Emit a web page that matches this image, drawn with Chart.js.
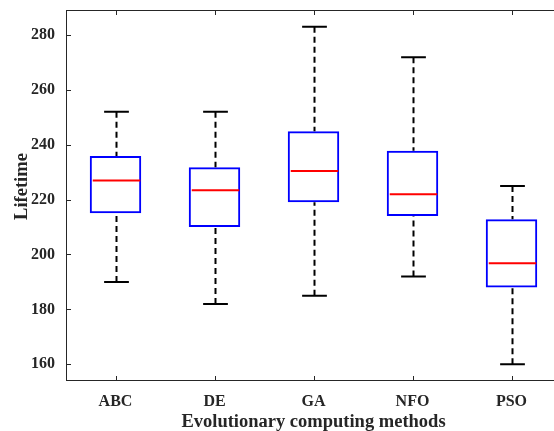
<!DOCTYPE html>
<html>
<head>
<meta charset="utf-8">
<script src="https://cdn.jsdelivr.net/npm/chart.js@4"></script>
<style>
html, body { margin: 0; padding: 0; background: #fff; overflow: hidden; }
#wrap { width: 554px; height: 431px; overflow: hidden; }
</style>
</head>
<body>
<div id="wrap"><canvas id="myChart" width="562" height="431"></canvas></div>
<script>
var methods = ['ABC', 'DE', 'GA', 'NFO', 'PSO'];
var whiskerLow = [190, 182, 185, 192, 160];
var q1 = [215, 210, 219, 214, 188];
var median = [227, 223.4, 230.4, 222, 196.8];
var q3 = [235.9, 231.8, 244.9, 237.8, 212.8];
var whiskerHigh = [252, 252, 283, 271.9, 225];
var yTicks = [160, 180, 200, 220, 240, 260, 280];
var yTitle = 'Lifetime';

var fontFam = '"Liberation Serif", "Times New Roman", serif';
var axisGray = '#262626';

// whiskers, caps and medians, drawn on top of the boxes
var boxParts = {
    id: 'boxParts',
    afterDatasetsDraw: function(chart) {
        var c = chart.ctx, x = chart.scales.x, y = chart.scales.y;
        var step = x.getPixelForValue(1) - x.getPixelForValue(0);
        var capHalf = step * 0.125, boxHalf = step * 0.25;
        c.save();
        methods.forEach(function(m, i) {
            var cx = Math.round(x.getPixelForValue(i)) + 0.5;
            c.strokeStyle = '#000';
            c.lineWidth = 2;
            c.setLineDash([6, 4]);
            c.beginPath();
            c.moveTo(cx, y.getPixelForValue(whiskerHigh[i]));
            c.lineTo(cx, y.getPixelForValue(q3[i]));
            c.moveTo(cx, y.getPixelForValue(whiskerLow[i]));
            c.lineTo(cx, y.getPixelForValue(q1[i]));
            c.stroke();
            c.setLineDash([]);
            c.beginPath();
            c.moveTo(cx - capHalf, y.getPixelForValue(whiskerHigh[i]));
            c.lineTo(cx + capHalf, y.getPixelForValue(whiskerHigh[i]));
            c.moveTo(cx - capHalf, y.getPixelForValue(whiskerLow[i]));
            c.lineTo(cx + capHalf, y.getPixelForValue(whiskerLow[i]));
            c.stroke();
            c.strokeStyle = '#ff0000';
            c.beginPath();
            c.moveTo(cx - boxHalf + 1, y.getPixelForValue(median[i]));
            c.lineTo(cx + boxHalf - 1, y.getPixelForValue(median[i]));
            c.stroke();
        });
        c.restore();
    }
};

// box frame with inward ticks on all four sides, plus the y label
var frame = {
    id: 'frame',
    afterDraw: function(chart) {
        var c = chart.ctx, a = chart.chartArea, x = chart.scales.x, y = chart.scales.y;
        c.save();
        c.strokeStyle = axisGray;
        c.lineWidth = 1;
        c.strokeRect(a.left + 0.5, a.top + 0.5, a.right - a.left - 1, a.bottom - a.top - 1);
        c.beginPath();
        y.ticks.forEach(function(t) {
            var py = Math.round(y.getPixelForValue(t.value)) + 0.5;
            c.moveTo(a.left, py); c.lineTo(a.left + 5, py);
            c.moveTo(a.right, py); c.lineTo(a.right - 5, py);
        });
        methods.forEach(function(m, i) {
            var px = Math.round(x.getPixelForValue(i)) + 0.5;
            c.moveTo(px, a.bottom); c.lineTo(px, a.bottom - 5);
            c.moveTo(px, a.top); c.lineTo(px, a.top + 5);
        });
        c.stroke();
        // MATLAB puts the ylabel a little above the axis middle
        c.translate(22, (a.top + a.bottom) / 2 - 9);
        c.rotate(-Math.PI / 2);
        c.fillStyle = axisGray;
        c.font = 'bold 18.5px ' + fontFam;
        c.textAlign = 'center';
        c.textBaseline = 'middle';
        c.fillText(yTitle, 0, 0);
        c.restore();
    }
};

var ctx = document.getElementById('myChart');

var myChart = new Chart(ctx, {
    type: 'bar',
    data: {
        labels: methods,
        datasets: [{
            label: yTitle,
            data: methods.map(function(m, i) { return [q1[i], q3[i]]; }),
            backgroundColor: 'rgba(0,0,0,0)',
            borderColor: '#0000ff',
            borderWidth: 2,
            borderSkipped: false,
            barPercentage: 0.52,
            categoryPercentage: 1
        }]
    },
    options: {
        responsive: false,
        animation: false,
        layout: { padding: { top: 10, left: 0, right: 1, bottom: 0 } },
        plugins: { legend: { display: false }, tooltip: { enabled: false } },
        scales: {
            x: {
                offset: true,
                grid: { display: false, drawTicks: false },
                border: { display: false },
                ticks: { color: axisGray, padding: 11, font: { family: fontFam, size: 16, weight: 'bold' } },
                title: {
                    display: true,
                    text: 'Evolutionary computing methods',
                    color: axisGray,
                    font: { family: fontFam, size: 18.5, weight: 'bold', lineHeight: 1 },
                    padding: { top: 0, bottom: 0 }
                },
                afterFit: function(s) { s.height = 50; s.paddingLeft = 0; s.paddingRight = 0; }
            },
            y: {
                min: 153.9,
                max: 289.1,
                grid: { display: false, drawTicks: false },
                border: { display: false },
                ticks: { color: axisGray, padding: 11, includeBounds: false, stepSize: 20, font: { family: fontFam, size: 16, weight: 'bold' } },
                afterBuildTicks: function(s) { s.ticks = yTicks.map(function(v) { return { value: v }; }); },
                afterFit: function(s) { s.width = 66; s.paddingTop = 0; s.paddingBottom = 0; }
            }
        }
    },
    plugins: [boxParts, frame]
});
</script>
</body>
</html>
